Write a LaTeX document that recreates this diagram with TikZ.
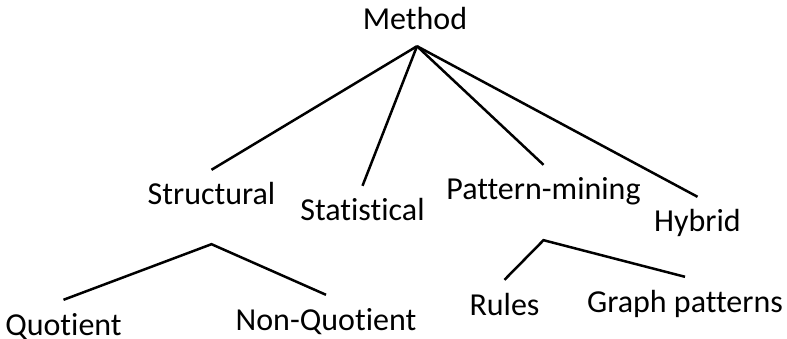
\documentclass[tikz,border=0pt]{standalone}
\usepackage{fontspec}
\setmainfont[Ligatures=NoCommon]{Carlito}

\tikzset{
	term/.style = {font=\fontsize{32}{36}\selectfont, inner xsep=0pt, inner ysep=9pt, text height=26pt, text depth=7pt, anchor=base},
	branch/.style = {line width=2.5pt}
}

\begin{document}
\begin{tikzpicture}[x=1pt, y=-1pt]
	\useasboundingbox (0,0) rectangle (787,339);
	\node[term] (method) at (415,30) {Method};
	\node[term] (structural) at (211.5,205) {Structural};
	\node[term] (statistical) at (362.5,221) {Statistical};
	\node[term] (patternmining) at (543.5,200) {Pattern-mining};
	\node[term] (hybrid) at (697.5,232) {Hybrid};
	\node[term] (quotient) at (63.5,335) {Quotient};
	\node[term] (nonquotient) at (326,330) {Non-Quotient};
	\node[term] (rules) at (504.5,315) {Rules};
	\node[term] (graphpatterns) at (685,312) {Graph patterns};
	\coordinate (methodfork) at ([xshift=2pt]method.south);
	\coordinate (structuralfork) at ([yshift=-23pt]structural.south);
	\coordinate (patternfork) at ([yshift=-24pt]patternmining.south);
	\foreach \child in {structural, statistical, patternmining, hybrid}
		\draw[branch] (methodfork) -- (\child.north);
	\draw[branch] (quotient.north) -- (structuralfork) -- (nonquotient.north);
	\draw[branch] (rules.north) -- (patternfork) -- (graphpatterns.north);
\end{tikzpicture}
\end{document}
